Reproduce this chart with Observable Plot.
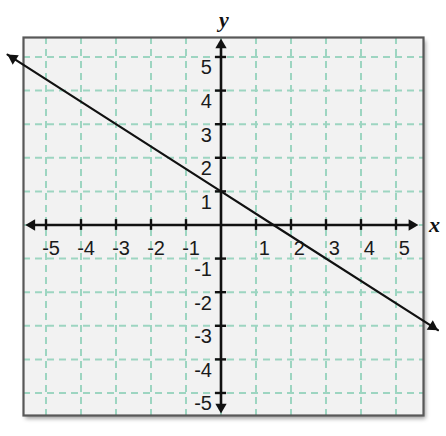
<!DOCTYPE html>
<html>
<head>
<meta charset="utf-8">
<script src="https://cdn.jsdelivr.net/npm/d3@7"></script>
<script src="https://cdn.jsdelivr.net/npm/@observablehq/plot@0.6"></script>
<style>
  html, body { margin: 0; padding: 0; background: #ffffff; }
  #chart svg { display: block; }
</style>
</head>
<body>
<div id="chart"></div>
<script>
// ---- data ----
const gridValues = [-5, -4, -3, -2, -1, 0, 1, 2, 3, 4, 5];
const tickValues = [-5, -4, -3, -2, -1, 1, 2, 3, 4, 5];
const tickLabels = ["-5", "-4", "-3", "-2", "-1", "1", "2", "3", "4", "5"];
// line y = 1 - 2x/3 (ends = arrow tips)
const lineX = [-6.1, -3, 0, 1.5, 6.2];
const lineY = [5.07, 3, 1, 0, -3.13];
// axis extents (arrow tips)
const xAxisEnds = [-5.59, 5.64];
const yAxisEnds = [-5.61, 5.55];

const lineData = lineX.map((x, i) => ({x, y: lineY[i]}));
const xTickData = tickValues.map((v, i) => ({v, label: tickLabels[i]}));

const ink = "#111";
const labelInk = "#1a1a1a";
const gridColor = "#9dd5c1";
const tickLen = 0.16;
const inset = 0.16;
const arrowR = 4.2;
const off = 6.5;
const ang = Math.atan((2 / 3) * 33.6 / 35);
const adx = off * Math.cos(ang), ady = off * Math.sin(ang);
const angDeg = ang * 180 / Math.PI;
const labelSize = 20;

const chart = Plot.plot({
  width: 446,
  height: 436,
  marginLeft: 23,
  marginRight: 23,
  marginTop: 37,
  marginBottom: 21,
  x: {domain: [-5.643, 5.786], axis: null},
  y: {domain: [-5.67, 5.58], axis: null},
  style: {background: "#ffffff", overflow: "visible", fontFamily: "'Liberation Sans', Arial, sans-serif"},
  marks: [
    Plot.frame({fill: "#f2f2f2", stroke: "none"}),
    // dashed grid
    Plot.ruleX(gridValues, {stroke: gridColor, strokeWidth: 2, strokeDasharray: "7 5"}),
    Plot.ruleY(gridValues, {stroke: gridColor, strokeWidth: 2, strokeDasharray: "7 5"}),
    Plot.frame({fill: "none", stroke: "#585858", strokeWidth: 2.2}),
    // axes
    Plot.ruleY([0], {x1: xAxisEnds[0] + inset, x2: xAxisEnds[1] - inset, stroke: ink, strokeWidth: 2.6}),
    Plot.ruleX([0], {y1: yAxisEnds[0] + inset, y2: yAxisEnds[1] - inset, stroke: ink, strokeWidth: 2.6}),
    // axis ticks
    Plot.ruleX(tickValues, {y1: -tickLen, y2: tickLen, stroke: ink, strokeWidth: 2.4}),
    Plot.ruleY(tickValues, {x1: -tickLen, x2: tickLen, stroke: ink, strokeWidth: 2.4}),
    // axis arrowheads
    Plot.dot([{x: xAxisEnds[1], y: 0}], {x: "x", y: "y", symbol: "triangle", r: arrowR, fill: ink, stroke: "none", rotate: 90, dx: -off}),
    Plot.dot([{x: xAxisEnds[0], y: 0}], {x: "x", y: "y", symbol: "triangle", r: arrowR, fill: ink, stroke: "none", rotate: -90, dx: off}),
    Plot.dot([{x: 0, y: yAxisEnds[1]}], {x: "x", y: "y", symbol: "triangle", r: arrowR, fill: ink, stroke: "none", rotate: 0, dy: off}),
    Plot.dot([{x: 0, y: yAxisEnds[0]}], {x: "x", y: "y", symbol: "triangle", r: arrowR, fill: ink, stroke: "none", rotate: 180, dy: -off}),
    // tick labels
    Plot.text(xTickData, {x: "v", y: () => 0, text: "label", textAnchor: "end", dx: 14, dy: 24, fontSize: labelSize, fill: labelInk}),
    Plot.text(xTickData, {x: () => 0, y: "v", text: "label", textAnchor: "end", dx: -9, dy: 11, fontSize: labelSize, fill: labelInk}),
    // axis names
    Plot.text(["x"], {x: () => xAxisEnds[1], y: () => 0, text: d => d, dx: 16, dy: 0, fontSize: 22, fontStyle: "italic", fontWeight: "bold", fontFamily: "'Liberation Serif', 'Times New Roman', serif", fill: ink}),
    Plot.text(["y"], {x: () => 0, y: () => yAxisEnds[1], text: d => d, dx: 3, dy: -19, fontSize: 22, fontStyle: "italic", fontWeight: "bold", fontFamily: "'Liberation Serif', 'Times New Roman', serif", fill: ink}),
    // the line
    Plot.line(lineData, {x: "x", y: "y", stroke: ink, strokeWidth: 2.2}),
    Plot.dot([lineData[lineData.length - 1]], {x: "x", y: "y", symbol: "triangle", r: arrowR, fill: ink, stroke: "none", rotate: 90 + angDeg, dx: -adx, dy: -ady}),
    Plot.dot([lineData[0]], {x: "x", y: "y", symbol: "triangle", r: arrowR, fill: ink, stroke: "none", rotate: -90 + angDeg, dx: adx, dy: ady})
  ]
});

const frames = chart.querySelectorAll('[aria-label="frame"]');
if (frames.length) frames[0].style.filter = "drop-shadow(2px 3px 2px rgba(0,0,0,0.4))";
document.getElementById("chart").append(chart);
</script>
</body>
</html>
